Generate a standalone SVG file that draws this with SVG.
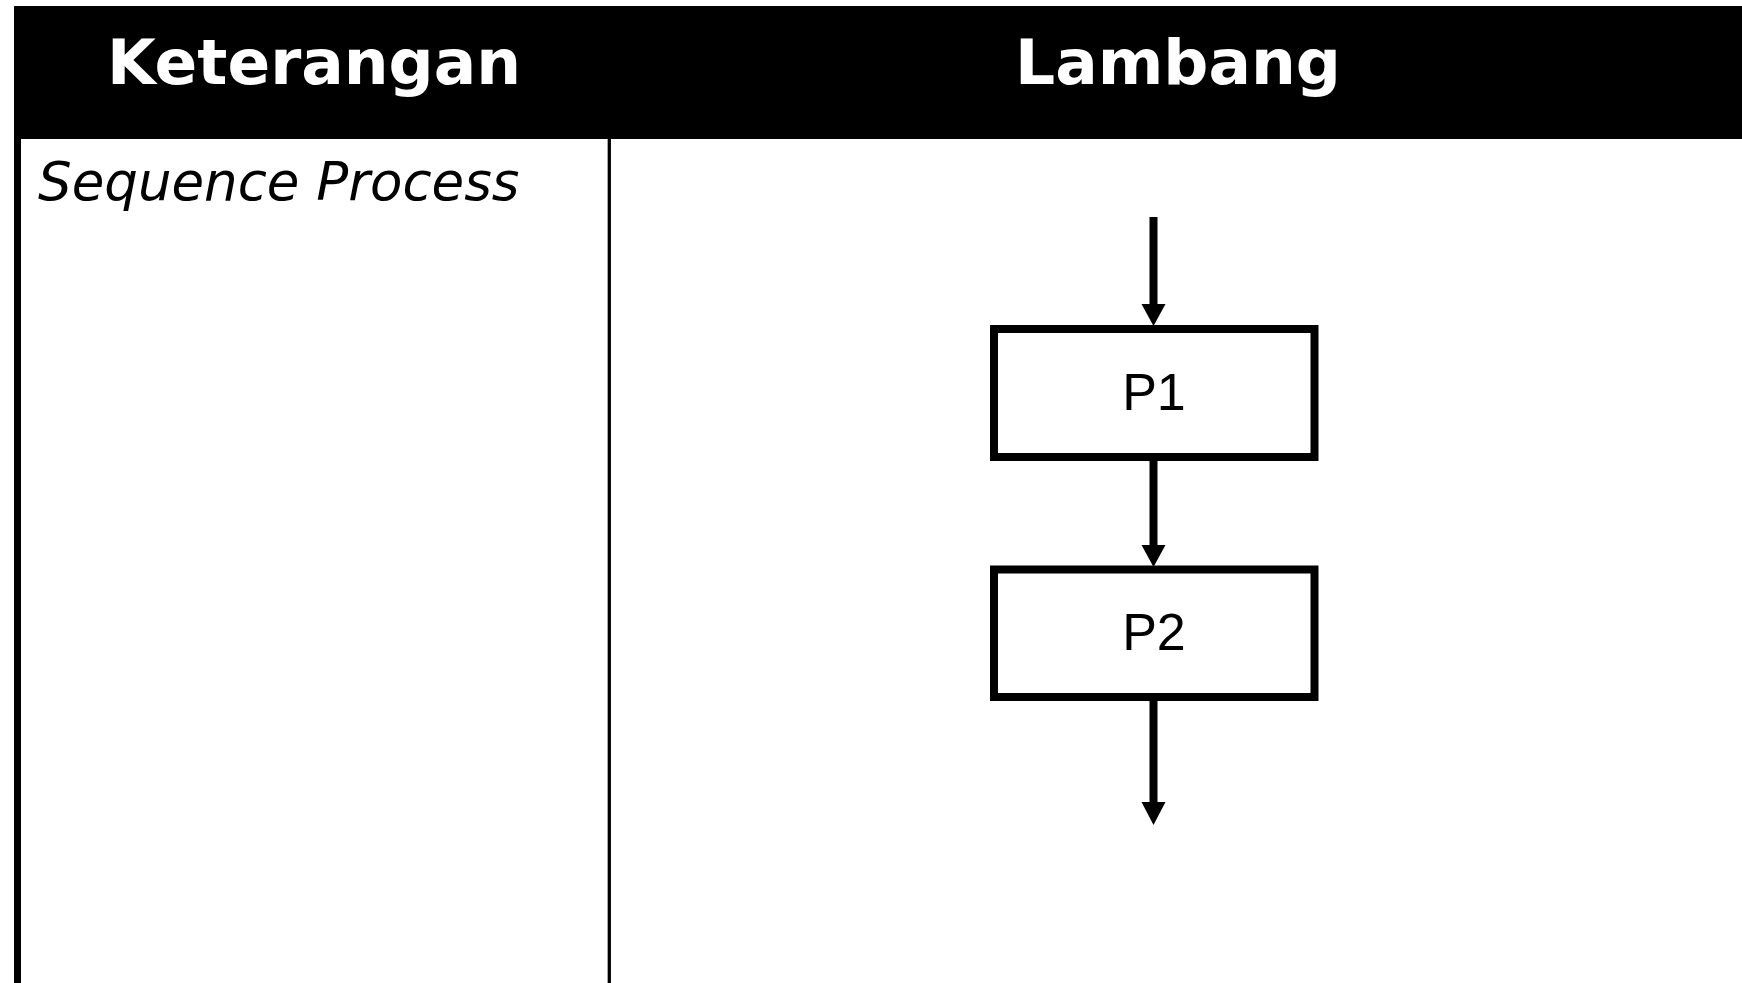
<svg xmlns="http://www.w3.org/2000/svg" width="1742" height="983" viewBox="0 0 1742 983">
<style>
.hdr{font-family:"DejaVu Sans",Verdana,sans-serif;font-weight:bold;font-size:63px;fill:#fff;text-anchor:middle}
.desc{font-family:"DejaVu Sans",Verdana,sans-serif;font-style:italic;font-size:53px;fill:#000}
.box{fill:#fff;stroke:#000;stroke-width:8}
.lbl{font-family:"Liberation Sans",Arial,sans-serif;font-size:52px;fill:#000;text-anchor:middle}
.conn{stroke:#000;stroke-width:8;fill:none}
.head{fill:#000}
</style>
<rect width="1742" height="983" fill="#fff"/>
<g id="table">
<rect x="14" y="6" width="1728" height="133" fill="#000"/>
<line x1="17.5" y1="139" x2="17.5" y2="983" stroke="#000" stroke-width="7"/>
<line x1="609.3" y1="139" x2="609.3" y2="983" stroke="#000" stroke-width="3.3"/>
<text class="hdr" x="314" y="84">Keterangan</text>
<text class="hdr" x="1178" y="84">Lambang</text>
<text class="desc" x="38" y="200">Sequence Process</text>
</g>
<g id="connectors">
<line class="conn" x1="1153.5" y1="217" x2="1153.5" y2="305"/>
<path class="head" d="M1141.5,304 L1165.5,304 L1153.5,326 Z"/>
<line class="conn" x1="1153.5" y1="460" x2="1153.5" y2="545"/>
<path class="head" d="M1141.5,545 L1165.5,545 L1153.5,567 Z"/>
<line class="conn" x1="1153.5" y1="699" x2="1153.5" y2="803"/>
<path class="head" d="M1141.5,802 L1165.5,802 L1153.5,825 Z"/>
</g>
<g id="P1">
<rect class="box" x="994" y="329" width="320.5" height="128"/>
<text class="lbl" x="1154" y="410">P1</text>
</g>
<g id="P2">
<rect class="box" x="994" y="569.5" width="320.5" height="127.5"/>
<text class="lbl" x="1154" y="650">P2</text>
</g>
</svg>
